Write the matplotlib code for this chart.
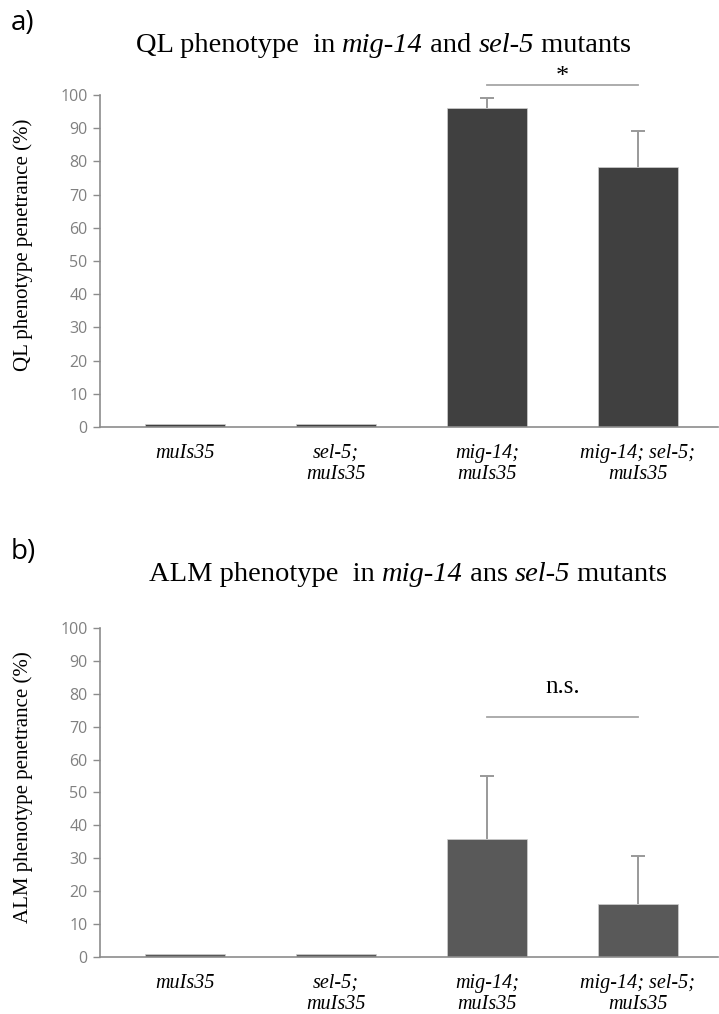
import matplotlib.pyplot as plt

SERIF = 'Liberation Serif'
SANS = 'Open Sans'

categories = ["muIs35", "sel-5;\nmuIs35", "mig-14;\nmuIs35", "mig-14; sel-5;\nmuIs35"]

# panel a: QL phenotype
ql_values = [0.8, 0.8, 96.2, 78.2]
ql_errors = [0, 0, 3.0, 11.0]

# panel b: ALM phenotype
alm_values = [0.8, 0.8, 36.0, 16.2]
alm_errors = [0, 0, 19.0, 14.5]

x = list(range(len(categories)))

fig = plt.figure(figsize=(7.19, 10.14), dpi=100)
ax_a = fig.add_axes([0.1391, 0.5789, 0.8595, 0.3274])
ax_b = fig.add_axes([0.1391, 0.0562, 0.8595, 0.3245])


def style_axis(ax, values, errors, color, ylabel, label_y):
    ax.bar(x, values, width=0.53, color=color, edgecolor='#cfcfcf', linewidth=0.5, zorder=2)
    err_x = [xi for xi, e in zip(x, errors) if e > 0]
    err_v = [v for v, e in zip(values, errors) if e > 0]
    err_e = [e for e in errors if e > 0]
    _, caps, _ = ax.errorbar(err_x, err_v, yerr=[[0] * len(err_e), err_e], fmt='none',
                             ecolor='#999999', elinewidth=1.4, capsize=5, capthick=1.4,
                             zorder=1)
    caps[0].set_visible(False)  # only the upper cap
    ax.set_xlim(-0.563, 3.53)
    ax.set_ylim(0, 100)
    ax.set_yticks(range(0, 101, 10))
    for s in ['top', 'right']:
        ax.spines[s].set_visible(False)
    for s in ['left', 'bottom']:
        ax.spines[s].set_color('#8c8c8c')
        ax.spines[s].set_linewidth(1.2)
    ax.tick_params(axis='y', direction='out', length=5, width=1.0, color='#8c8c8c',
                   labelcolor='#808080', labelsize=11.5, pad=4)
    for lab in ax.get_yticklabels():
        lab.set_fontfamily(SANS)
    ax.set_xticks(x)
    ax.set_xticklabels(categories, fontfamily=SERIF, fontstyle='italic', fontsize=14.5,
                       linespacing=1.18)
    ax.tick_params(axis='x', length=0, pad=12)
    ax.set_ylabel(ylabel, fontfamily=SERIF, fontsize=15)
    ax.yaxis.set_label_coords(-0.108, label_y)


style_axis(ax_a, ql_values, ql_errors, '#404040', 'QL phenotype penetrance (%)', 0.548)
style_axis(ax_b, alm_values, alm_errors, '#595959', 'ALM phenotype penetrance (%)', 0.517)

# significance markers
ax_a.plot([2, 3], [103, 103], color='#a6a6a6', lw=1.3, clip_on=False)
ax_a.text(2.5, 105.5, '*', ha='center', va='center', fontfamily=SERIF, fontsize=19)

ax_b.plot([2, 3], [73, 73], color='#a6a6a6', lw=1.3, clip_on=False)
ax_b.text(2.5, 82, 'n.s.', ha='center', va='center', fontfamily=SERIF, fontsize=18)


def rich_title(xc, y, parts, size):
    """Draw mixed upright/italic pieces on one baseline, centred on xc."""
    renderer = fig.canvas.get_renderer()
    fig_w = fig.get_figwidth() * fig.dpi
    pieces = []
    for s, style in parts:
        t = fig.text(0, y, s, fontfamily=SERIF, fontstyle=style, fontsize=size,
                     va='baseline', ha='left')
        pieces.append((t, t.get_window_extent(renderer).width / fig_w))
    pos = xc - sum(w for _, w in pieces) / 2
    for t, w in pieces:
        t.set_x(pos)
        pos += w


rich_title(0.533, 0.9487, [('QL phenotype  in ', 'normal'), ('mig-14', 'italic'),
                           (' and ', 'normal'), ('sel-5', 'italic'),
                           (' mutants', 'normal')], 20.5)
rich_title(0.568, 0.427, [('ALM phenotype  in ', 'normal'), ('mig-14', 'italic'),
                          (' ans ', 'normal'), ('sel-5', 'italic'),
                          (' mutants', 'normal')], 20.5)
fig.text(0.015, 0.977, 'a)', ha='left', va='center', fontfamily=SANS, fontsize=20)
fig.text(0.015, 0.456, 'b)', ha='left', va='center', fontfamily=SANS, fontsize=20)

fig.savefig('out.png', dpi=100)
